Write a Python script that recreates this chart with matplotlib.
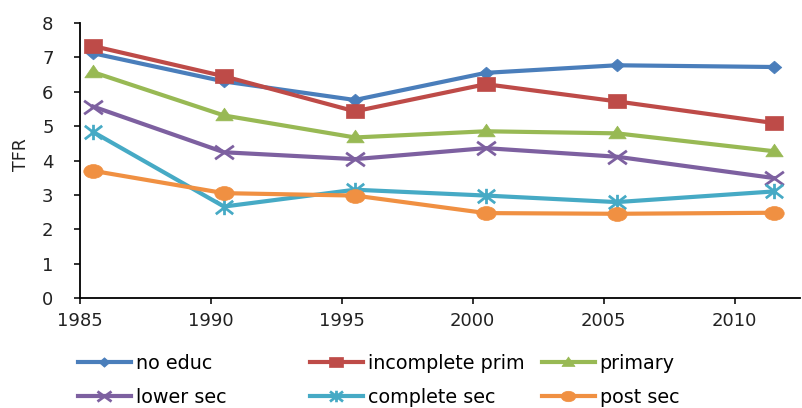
import matplotlib
matplotlib.use('Agg')
import matplotlib.pyplot as plt
from matplotlib.path import Path
from matplotlib.transforms import Affine2D

plt.rcParams['font.family'] = ['DejaVu Sans']

# data
years = [1985.5, 1990.5, 1995.5, 2000.5, 2005.5, 2011.5]
no_educ = [7.12, 6.30, 5.76, 6.55, 6.77, 6.72]
incomplete_prim = [7.33, 6.45, 5.43, 6.22, 5.72, 5.09]
primary = [6.57, 5.31, 4.67, 4.85, 4.79, 4.27]
lower_sec = [5.57, 4.24, 4.04, 4.36, 4.11, 3.49]
complete_sec = [4.83, 2.66, 3.15, 2.98, 2.79, 3.10]
post_sec = [3.70, 3.05, 2.98, 2.47, 2.45, 2.48]

labels = ['no educ', 'incomplete prim', 'primary', 'lower sec', 'complete sec', 'post sec']
colors = ['#4A7EBB', '#BE4B48', '#98B954', '#7D60A0', '#46AAC5', '#F09042']
series = [no_educ, incomplete_prim, primary, lower_sec, complete_sec, post_sec]

# marker shapes (the source picture is stretched sideways a bit)
M, L = Path.MOVETO, Path.LINETO
diamond = Path([(0, 1), (1.15, 0), (0, -1), (-1.15, 0), (0, 1)], closed=True)
square = Path([(-1.3, -1), (1.3, -1), (1.3, 1), (-1.3, 1), (-1.3, -1)], closed=True)
triangle = Path([(-1.3, -0.8), (1.3, -0.8), (0, 1.1), (-1.3, -0.8)], closed=True)
cross = Path([(-1.4, -1), (1.4, 1), (-1.4, 1), (1.4, -1)], [M, L, M, L])
star = Path([(-1.3, -1), (1.3, 1), (-1.3, 1), (1.3, -1), (0, -1.15), (0, 1.15)],
            [M, L, M, L, M, L])
ellipse = Path.unit_circle().transformed(Affine2D().scale(1.4, 1))

markers = [diamond, square, triangle, cross, star, ellipse]
msizes = [10.5, 13, 12.5, 13.5, 12.5, 14]
filled = [True, True, True, False, False, True]

fig = plt.figure(figsize=(8.02, 4.08), dpi=100)
ax = fig.add_axes([80 / 802, 110 / 408, 720 / 802, 275 / 408])

handles = []
for vals, lab, c, mk, ms, fl in zip(series, labels, colors, markers, msizes, filled):
    h, = ax.plot(years, vals, color=c, lw=3, marker=mk, ms=ms,
                 markerfacecolor=c if fl else 'none', markeredgecolor=c,
                 markeredgewidth=0.5 if fl else 2, label=lab, clip_on=False)
    handles.append(h)

ax.set_xlim(1985, 2012.5)
ax.set_ylim(0, 8)
ax.set_xticks([1985, 1990, 1995, 2000, 2005, 2010])
ax.set_yticks(range(0, 9))
ax.spines['top'].set_visible(False)
ax.spines['right'].set_visible(False)
for s in ['left', 'bottom']:
    ax.spines[s].set_linewidth(1.3)
    ax.spines[s].set_color('black')
ax.tick_params(axis='both', direction='out', length=4, width=1.3, labelsize=13, colors='#222222')
ax.tick_params(axis='x', pad=6)
ax.tick_params(axis='y', pad=15)
ax.set_ylabel('TFR', fontsize=12.5, color='#222222')
ax.yaxis.set_label_coords(-(80 - 30) / 720, 0.52)

# legend: three columns of equal width, like the original
col_x = [78, 310, 542]
for i, x in enumerate(col_x):
    fig.legend([handles[i], handles[i + 3]], [labels[i], labels[i + 3]],
               loc='center left', bbox_to_anchor=(x / 802, 1 - 380.5 / 408),
               frameon=False, fontsize=13.8, handlelength=2.75, handletextpad=0.25,
               labelspacing=0.8, borderpad=0, borderaxespad=0, markerscale=0.75)

fig.savefig('out.png', dpi=100)
